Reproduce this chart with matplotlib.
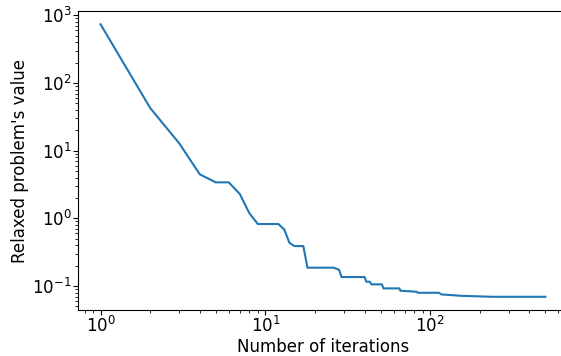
import matplotlib
matplotlib.use("Agg")
import matplotlib.pyplot as plt

iterations = [1, 2, 3, 4, 5, 6, 7, 8, 9, 12, 13, 14, 15, 17, 18, 26, 28, 29,
              40, 41, 43, 44, 51, 52, 65, 66, 83, 84, 113, 117, 153, 237, 500]
values = [738, 42.8, 12.9, 4.48, 3.41, 3.41, 2.29, 1.19, 0.826, 0.826, 0.689,
          0.436, 0.39, 0.39, 0.187, 0.187, 0.174, 0.136, 0.136, 0.116, 0.116,
          0.106, 0.106, 0.0925, 0.0925, 0.0853, 0.0824, 0.0796, 0.0796, 0.0753,
          0.0719, 0.0695, 0.0695]

plt.rcParams['font.size'] = 12
fig = plt.figure(figsize=(5.61, 3.56), dpi=100)
ax = fig.add_axes([0.1396, 0.1281, 0.8722, 0.8419])
ax.plot(iterations, values, color='#1f77b4', linewidth=1.5)
ax.set_xscale('log')
ax.set_yscale('log')
ax.tick_params(axis='x', which='both', pad=0.8)
ax.tick_params(axis='y', which='both', pad=1.4)
ax.set_xlabel('Number of iterations', labelpad=1.2)
ax.set_ylabel("Relaxed problem's value", labelpad=2.0)
fig.savefig('out.png', dpi=100)
